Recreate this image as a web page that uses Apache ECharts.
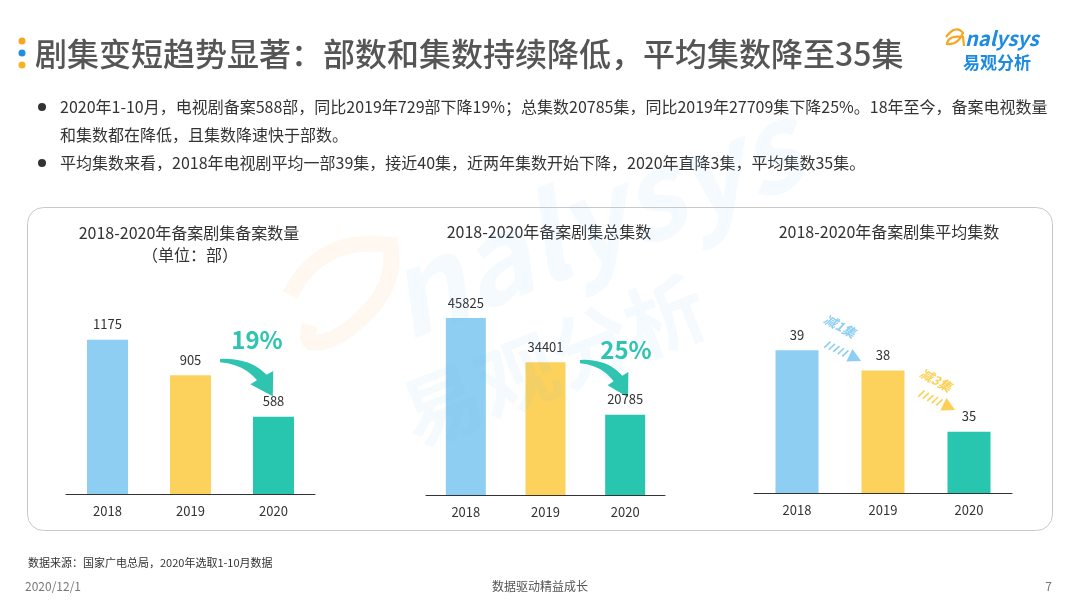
<!DOCTYPE html>
<html>
<head>
<meta charset="utf-8">
<script src="https://cdn.jsdelivr.net/npm/echarts@6/dist/echarts.min.js"></script>
<style>
  html, body { margin: 0; padding: 0; background: #fff; }
  #main { width: 1080px; height: 608px; }
</style>
</head>
<body>
<div id="main"></div>
<script>
// data
var years = ['2018', '2019', '2020'];
var filingCount = [1175, 905, 588];        // 部
var totalEpisodes = [45825, 34401, 20785]; // 集
var avgEpisodes = [39, 38, 35];            // 集/部
var dropPct = ['19%', '25%'];
var avgDrops = ['减1集', '减3集'];
var chartTitles = ['2018-2020年备案剧集备案数量', '2018-2020年备案剧集总集数', '2018-2020年备案剧集平均集数'];

var FONT = '"Noto Sans CJK SC", "Noto Sans", sans-serif';
var barColors = ['#8ecef2', '#fdd25c', '#28c6ae'];
var teal = '#2ec4b0';

var chart = echarts.init(document.getElementById('main'));

function xAxisFor(idx) {
	return {
		type: 'category',
		gridIndex: idx,
		data: years,
		axisLine: { lineStyle: { color: '#333', width: 1 } },
		axisTick: { show: false },
		axisLabel: { color: '#333', fontSize: 13, margin: 11, fontFamily: FONT }
	};
}

function barSeries(idx, values, width) {
	return {
		type: 'bar',
		xAxisIndex: idx,
		yAxisIndex: idx,
		barWidth: width,
		data: values,
		itemStyle: {
			color: function (p) { return barColors[p.dataIndex]; }
		},
		label: {
			show: true,
			position: 'top',
			distance: 9,
			color: '#333',
			fontSize: 13,
			fontFamily: FONT
		}
	};
}

function txt(x, y, text, size, color, extra) {
	var el = {
		type: 'text',
		x: x,
		y: y,
		silent: true,
		style: {
			text: text,
			fill: color,
			fontSize: size,
			fontFamily: FONT,
			textAlign: 'left',
			textVerticalAlign: 'middle'
		}
	};
	if (extra) {
		for (var k in extra) {
			if (k === 'style') {
				for (var s in extra.style) el.style[s] = extra.style[s];
			} else {
				el[k] = extra[k];
			}
		}
	}
	return el;
}

// sample a quadratic curve into points
function quad(p0, c, p1, n) {
	var pts = [];
	for (var i = 0; i <= n; i++) {
		var t = i / n, u = 1 - t;
		pts.push([u * u * p0[0] + 2 * u * t * c[0] + t * t * p1[0],
		          u * u * p0[1] + 2 * u * t * c[1] + t * t * p1[1]]);
	}
	return pts;
}

// teal curved arrow, tail at the local origin
function curveArrow(x, y, sx, sy) {
	var pts = quad([0, -1], [28, -2], [42.3, 13.5], 12)
		.concat([[48.4, 10], [48, 33], [27.6, 22]])
		.concat(quad([33.6, 18.5], [22, 4], [0, 2], 12));
	return { type: 'polygon', x: x, y: y, scaleX: sx, scaleY: sy, silent: true,
		shape: { points: pts }, style: { fill: teal } };
}

function stripeArrow(x, y, color) {
	var children = [];
	for (var i = 0; i < 5; i++) {
		children.push({
			type: 'line',
			shape: { x1: i * 5, y1: 4, x2: i * 5 + 3, y2: -4 },
			style: { stroke: color, lineWidth: 1.6 }
		});
	}
	children.push({
		type: 'polygon',
		shape: { points: [[26, -7], [26, 7], [39, 0]] },
		style: { fill: color }
	});
	return { type: 'group', x: x, y: y, rotation: -0.45, silent: true, children: children };
}

var graphics = [
	// title markers
	{ type: 'circle', shape: { cx: 22, cy: 41, r: 3.5 }, style: { fill: '#f5a623' } },
	{ type: 'circle', shape: { cx: 22, cy: 53, r: 3.5 }, style: { fill: '#1e8fe6' } },
	{ type: 'circle', shape: { cx: 22, cy: 65, r: 3.5 }, style: { fill: '#f5b320' } },
	txt(35, 54, '剧集变短趋势显著：部数和集数持续降低，平均集数降至35集', 32, '#555', { style: { fontWeight: 500 } }),

	// logo
	{ type: 'polyline', x: 944, y: 28, silent: true,
	  shape: { points: quad([2, 9], [12, -4], [19, 5], 8).concat(quad([19, 5], [14, 17], [3, 16], 8)).concat(quad([3, 16], [4, 7], [19, 9], 8)).concat([[20, 18]]) },
	  style: { stroke: '#f5a623', lineWidth: 2.2, fill: null } },
	txt(965, 38, 'nalysys', 20, '#1d8be0', { style: { fontStyle: 'italic', fontWeight: 'bold' } }),
	txt(963, 63, '易观分析', 17, '#1d8be0', { style: { fontWeight: 'bold' } }),

	// bullets
	{ type: 'circle', shape: { cx: 42, cy: 107, r: 4 }, style: { fill: '#333' } },
	{ type: 'circle', shape: { cx: 42, cy: 163, r: 4 }, style: { fill: '#333' } },
	txt(60, 107, '2020年1-10月，电视剧备案588部，同比2019年729部下降19%；总集数20785集，同比2019年27709集下降25%。18年至今，备案电视数量', 16, '#333'),
	txt(60, 135, '和集数都在降低，且集数降速快于部数。', 16, '#333'),
	txt(60, 163, '平均集数来看，2018年电视剧平均一部39集，接近40集，近两年集数开始下降，2020年直降3集，平均集数35集。', 16, '#333'),

	// panel
	{ type: 'rect', shape: { x: 27.5, y: 207.5, width: 1025, height: 323, r: 16 },
	  style: { fill: null, stroke: '#c9c9c9', lineWidth: 1 }, z: -1 },

	// chart titles
	txt(189, 233, chartTitles[0], 16, '#333', { style: { textAlign: 'center' } }),
	txt(190, 255, '（单位：部）', 16, '#333', { style: { textAlign: 'center' } }),
	txt(549, 232, chartTitles[1], 16, '#333', { style: { textAlign: 'center' } }),
	txt(889, 232, chartTitles[2], 16, '#333', { style: { textAlign: 'center' } }),

	// drop annotations
	txt(257, 340, dropPct[0], 24, teal, { style: { textAlign: 'center', fontWeight: 'bold' } }),
	curveArrow(220, 360, 1.1, 1.1),
	txt(626, 350, dropPct[1], 24, teal, { style: { textAlign: 'center', fontWeight: 'bold' } }),
	curveArrow(580, 361, 1.0, 1.1),

	txt(840, 326, avgDrops[0], 13, barColors[0], { rotation: -0.5, style: { textAlign: 'center', fontWeight: 'bold', fontStyle: 'italic' } }),
	stripeArrow(826, 344, barColors[0]),
	txt(936, 380, avgDrops[1], 13, '#fccf55', { rotation: -0.5, style: { textAlign: 'center', fontWeight: 'bold', fontStyle: 'italic' } }),
	stripeArrow(920, 393, '#fccf55'),

	// faint watermark
	{ type: 'polyline', x: 280, y: 235, silent: true, z: 50,
	  shape: { points: quad([10, 60], [40, 0], [110, 10], 14).concat(quad([110, 10], [120, 60], [60, 100], 14)).concat(quad([60, 100], [20, 120], [30, 90], 8)) },
	  style: { stroke: 'rgba(250,170,80,0.08)', lineWidth: 16, fill: null } },
	txt(390, 300, 'nalysys', 118, 'rgba(120,190,240,0.08)', { rotation: 0.38, z: 50, style: { fontWeight: 'bold', fontStyle: 'italic' } }),
	txt(405, 420, '易观分析', 80, 'rgba(120,190,240,0.07)', { rotation: 0.38, z: 50, style: { fontWeight: 'bold' } }),

	// footer
	txt(28, 563, '数据来源：国家广电总局，2020年选取1-10月数据', 11, '#333'),
	txt(25, 586, '2020/12/1', 12, '#777'),
	txt(540, 586, '数据驱动精益成长', 12, '#555', { style: { textAlign: 'center' } }),
	txt(1052, 586, '7', 12, '#777', { style: { textAlign: 'right' } })
];

var option = {
	animation: false,
	backgroundColor: '#fff',
	textStyle: { fontFamily: FONT },
	grid: [
		{ left: 66, width: 249, top: 297, height: 197 },
		{ left: 426, width: 239, top: 302, height: 193 },
		{ left: 754, width: 258, top: 289, height: 204 }
	],
	xAxis: [xAxisFor(0), xAxisFor(1), xAxisFor(2)],
	yAxis: [
		{ type: 'value', gridIndex: 0, min: 0, max: 1500, show: false },
		{ type: 'value', gridIndex: 1, min: 0, max: 50000, show: false },
		{ type: 'value', gridIndex: 2, min: 32, max: 42, show: false }
	],
	series: [
		barSeries(0, filingCount, 41),
		barSeries(1, totalEpisodes, 40),
		barSeries(2, avgEpisodes, 43)
	],
	graphic: graphics
};

chart.setOption(option);
</script>
</body>
</html>
